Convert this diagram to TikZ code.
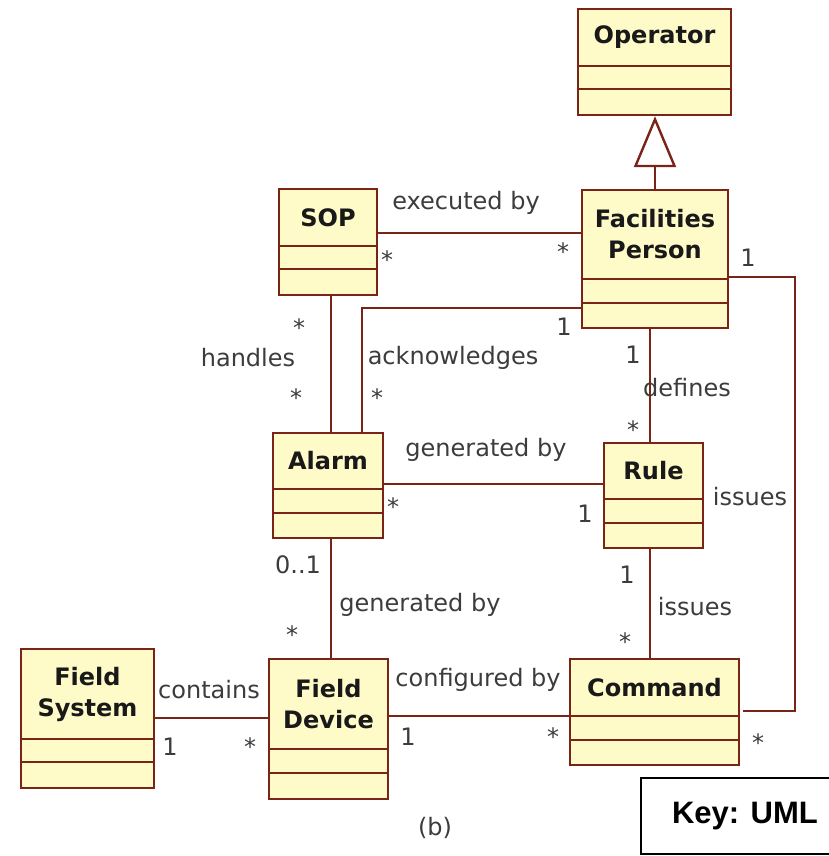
\documentclass[tikz,border=0pt]{standalone}
\usepackage{fontspec}
\setmainfont{DejaVu Sans}
\newfontfamily\keyfont{Liberation Sans}
\usetikzlibrary{arrows.meta}
\definecolor{umlfill}{HTML}{FFFBC9}
\definecolor{umlline}{HTML}{7A2418}
\definecolor{lbl}{HTML}{3C3C3C}
\tikzset{
  classbox/.style={draw=umlline, fill=umlfill, line width=2.4pt, inner sep=0pt},
  umlborder/.style={draw=umlline, line width=2.4pt},
  classname/.style={font=\bfseries\fontsize{24}{31}\selectfont, text=black!90, align=center, inner sep=0pt},
  assoc/.style={draw=umlline, line width=2.4pt},
  lab/.style={font=\fontsize{24}{29}\selectfont, text=lbl, inner sep=0pt},
  star/.style={lab, yshift=-5pt},
}
\newcommand{\umlclass}[8]{%
  \node[classbox, minimum width={#4pt-#2pt}, minimum height={#5pt-#3pt}] (#1) at ({(#2+#4)/2},{(#3+#5)/2}) {};
  \draw[umlborder] (#1.west |- 0,#6) -- (#1.east |- 0,#6) (#1.west |- 0,#7) -- (#1.east |- 0,#7);
  \node[classname] (#1-name) at ({(#2+#4)/2},{(#3+#6)/2}) {#8};
}
\begin{document}
\begin{tikzpicture}[x=1pt,y=-1pt]
\useasboundingbox (0,0) rectangle (829,856);
\fill[white] (0,0) rectangle (829,856);

% classes
\umlclass{op}{578}{9}{731}{115}{66}{89}{Operator}
\umlclass{fac}{582}{190}{728}{328}{279}{303}{Facilities\\Person}
\umlclass{sop}{279}{189}{377}{295}{246}{269}{SOP}
\umlclass{al}{273}{433}{383}{538}{489}{513}{Alarm}
\umlclass{rule}{604}{443}{703}{548}{499}{523}{Rule}
\umlclass{cmd}{570}{659}{739}{765}{716}{740}{Command}
\umlclass{fs}{21}{649}{154}{788}{739}{762}{Field\\System}
\umlclass{fd}{269}{659}{388}{799}{749}{773}{Field\\Device}

% generalization
\draw[assoc, -{Triangle[open, width=42pt, length=51pt, fill=white]}] (fac.north) -- (fac.north |- op.south);

% associations
\draw[assoc] (sop.east |- 0,233) -- (fac.west |- 0,233);
\draw[assoc] (sop.south -| 331,0) -- (al.north -| 331,0);
\draw[assoc] (fac.west |- 0,308) -| (al.north -| 362,0);
\draw[assoc] (al.east |- 0,484) -- (rule.west |- 0,484);
\draw[assoc] (fac.south -| 650,0) -- (rule.north -| 650,0);
\draw[assoc] (rule.south -| 650,0) -- (cmd.north -| 650,0);
\coordinate (loopTop) at (795,277);
\coordinate (loopBot) at (795,711);
\draw[assoc] (fac.east |- loopTop) -- (loopTop) -- (loopBot) -- ([xshift=3pt]cmd.east |- loopBot);
\draw[assoc] (al.south -| 331,0) -- (fd.north -| 331,0);
\draw[assoc] (fs.east |- 0,718) -- (fd.west |- 0,718);
\draw[assoc] (fd.east |- 0,716) -- (cmd.west |- 0,716);

% labels
\node[lab] (l1) at (466,203) {executed by};
\node[star] (m1) at (387,255) {*};
\node[star] (m2) at (563,247) {*};
\node[lab] (m3) at (564,327) {1};
\node[lab] (l2) at (453,358) {acknowledges};
\node[star] (m4) at (377,393) {*};
\node[star] (m5) at (299,323) {*};
\node[lab] (l3) at (248,358) {handles};
\node[star] (m6) at (296,393) {*};
\node[lab] (m7) at (633,355) {1};
\node[lab] (l4) at (687,388) {defines};
\node[star] (m8) at (633,425) {*};
\node[lab] (l5) at (486,450) {generated by};
\node[star] (m9) at (393,502) {*};
\node[lab] (m10) at (585,514) {1};
\node[lab] (l6) at (750,497) {issues};
\node[lab] (m11) at (627,575) {1};
\node[lab] (l7) at (695,607) {issues};
\node[star] (m12) at (625,637) {*};
\node[lab] (m13) at (748,258) {1};
\node[lab] (m14) at (298,565) {0..1};
\node[lab] (l8) at (420,605) {generated by};
\node[star] (m15) at (292,630) {*};
\node[lab] (l9) at (209,690) {contains};
\node[lab] (m16) at (170,747) {1};
\node[star] (m17) at (250,742) {*};
\node[lab] (l10) at (478,680) {configured by};
\node[lab] (m18) at (408,737) {1};
\node[star] (m19) at (553,732) {*};
\node[star] (m20) at (758,738) {*};
\node[lab] (cap) at (435,828) {(b)};

% key
\draw[line width=2pt] (641,778) rectangle (840,854);
\node[font=\keyfont\bfseries\fontsize{31}{36}\selectfont, inner sep=0pt] (key) at (745,816) {Key: UML};
\end{tikzpicture}
\end{document}
